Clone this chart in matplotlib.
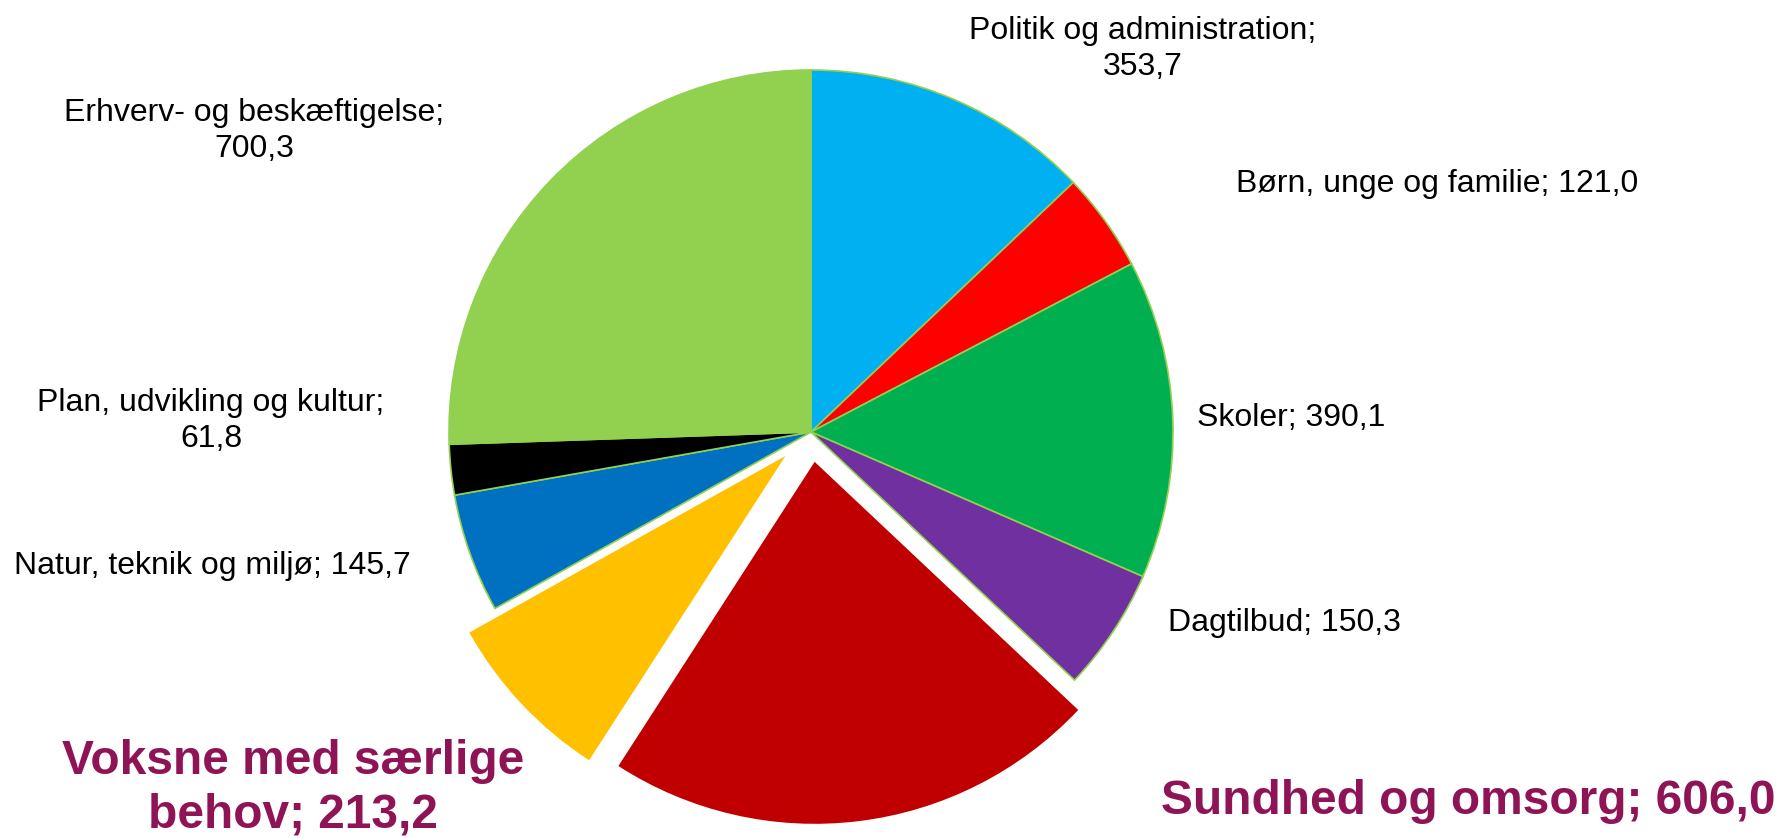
import matplotlib.pyplot as plt

plt.rcParams['font.family'] = ['Liberation Sans', 'DejaVu Sans']

labels = ["Politik og administration", "Børn, unge og familie", "Skoler", "Dagtilbud",
          "Sundhed og omsorg", "Voksne med særlige behov", "Natur, teknik og miljø",
          "Plan, udvikling og kultur", "Erhverv- og beskæftigelse"]
values = [353.7, 121.0, 390.1, 150.3, 606.0, 213.2, 145.7, 61.8, 700.3]
colors = ['#00B0F0', '#FF0000', '#00B050', '#7030A0', '#C00000',
          '#FFC000', '#0070C0', '#000000', '#92D050']
explode = [0, 0, 0, 0, 0.083, 0.097, 0, 0, 0]

W, H = 1783, 838
R = 362
fig = plt.figure(figsize=(W / 100, H / 100), dpi=100)
ax = fig.add_axes([0, 0, 1, 1])

# explode is in data units here, so scale by the radius
wedges, _ = ax.pie(values, colors=colors, explode=[e * R for e in explode], startangle=90,
                   counterclock=False, radius=R, center=(811, H - 432),
                   wedgeprops=dict(edgecolor='#92D050', linewidth=1.2))
for w, e in zip(wedges, explode):
    if e > 0:
        w.set_linewidth(0)

ax.set_xlim(0, W)
ax.set_ylim(0, H)
ax.set_aspect('equal')
ax.axis('off')

def fmt(v):
    return f"{v:.1f}".replace('.', ',')

plain = dict(fontsize=23, color='black', linespacing=1.22)
ax.text(1143, H - 49, f"{labels[0]};\n{fmt(values[0])}", ha='center', va='center', **plain)
ax.text(1236, H - 184, f"{labels[1]}; {fmt(values[1])}", ha='left', va='center', **plain)
ax.text(1197, H - 418, f"{labels[2]}; {fmt(values[2])}", ha='left', va='center', **plain)
ax.text(1168, H - 623, f"{labels[3]}; {fmt(values[3])}", ha='left', va='center', **plain)
ax.text(14, H - 566, f"{labels[6]}; {fmt(values[6])}", ha='left', va='center', **plain)
ax.text(211, H - 421, f"{labels[7]};\n{fmt(values[7])}", ha='center', va='center', **plain)
ax.text(254, H - 131, f"{labels[8]};\n{fmt(values[8])}", ha='center', va='center', **plain)

bold = dict(fontsize=34.5, color='#8E1456', fontweight='bold', linespacing=1.25)
ax.text(1776, H - 802, f"{labels[4]}; {fmt(values[4])}", ha='right', va='center', **bold)
ax.text(293, H - 788, "Voksne med særlige\nbehov; " + fmt(values[5]), ha='center', va='center', **bold)

fig.savefig('out.png', dpi=100)
